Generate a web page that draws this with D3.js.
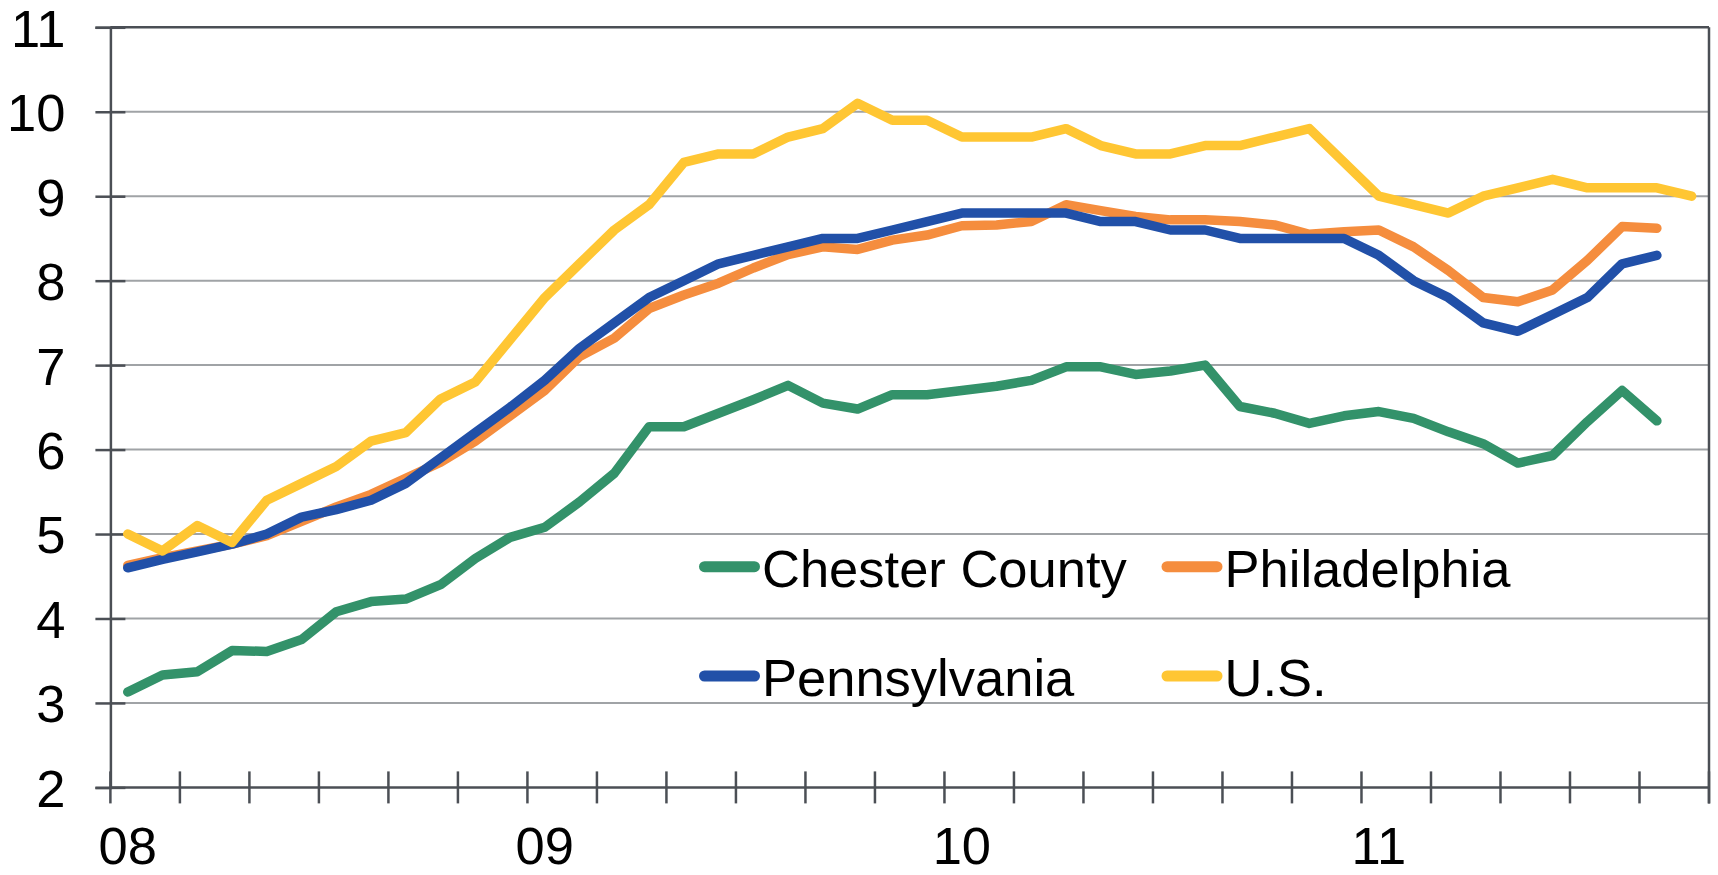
<!DOCTYPE html>
<html>
<head>
<meta charset="utf-8">
<script src="https://cdn.jsdelivr.net/npm/d3@7"></script>
<style>
  html, body { margin: 0; padding: 0; background: #fff; }
  svg { display: block; font-family: "Liberation Sans", Arial, sans-serif; }
</style>
</head>
<body>
<svg id="chart" width="1718" height="875"></svg>
<script>
// ---------- data ----------
const months = [
  "2008-01","2008-02","2008-03","2008-04","2008-05","2008-06","2008-07","2008-08","2008-09","2008-10","2008-11","2008-12",
  "2009-01","2009-02","2009-03","2009-04","2009-05","2009-06","2009-07","2009-08","2009-09","2009-10","2009-11","2009-12",
  "2010-01","2010-02","2010-03","2010-04","2010-05","2010-06","2010-07","2010-08","2010-09","2010-10","2010-11","2010-12",
  "2011-01","2011-02","2011-03","2011-04","2011-05","2011-06","2011-07","2011-08","2011-09","2011-10"
];
const yearTickMonths = ["2008-01","2009-01","2010-01","2011-01"];
const yearTickLabels = ["08","09","10","11"];
const yTicks = [2,3,4,5,6,7,8,9,10,11];

const chesterCounty = [
  3.13,3.33,3.37,3.62,3.61,3.75,4.08,4.20,4.23,4.40,4.71,4.96,
  5.08,5.38,5.72,6.27,6.27,6.43,6.59,6.76,6.55,6.48,6.65,6.65,
  6.70,6.75,6.82,6.98,6.98,6.89,6.93,7.00,6.51,6.43,6.31,6.40,
  6.45,6.37,6.21,6.07,5.84,5.93,6.33,6.70,6.34
];
const philadelphia = [
  4.63,4.72,4.80,4.88,4.98,5.15,5.32,5.47,5.66,5.85,6.10,6.40,
  6.70,7.10,7.32,7.67,7.83,7.97,8.15,8.31,8.40,8.37,8.48,8.54,
  8.65,8.66,8.70,8.90,8.83,8.76,8.72,8.72,8.70,8.66,8.55,8.58,
  8.60,8.40,8.12,7.80,7.75,7.89,8.24,8.64,8.62
];
const pennsylvania = [
  4.60,4.70,4.79,4.88,5.00,5.20,5.29,5.40,5.60,5.90,6.20,6.50,
  6.82,7.20,7.50,7.80,8.00,8.20,8.30,8.40,8.50,8.50,8.60,8.70,
  8.80,8.80,8.80,8.80,8.70,8.70,8.60,8.60,8.50,8.50,8.50,8.50,
  8.30,8.00,7.80,7.50,7.40,7.60,7.80,8.20,8.30
];
const us = [
  5.0,4.8,5.1,4.9,5.4,5.6,5.8,6.1,6.2,6.6,6.8,7.3,
  7.8,8.2,8.6,8.9,9.4,9.5,9.5,9.7,9.8,10.1,9.9,9.9,
  9.7,9.7,9.7,9.8,9.6,9.5,9.5,9.6,9.6,9.7,9.8,9.4,
  9.0,8.9,8.8,9.0,9.1,9.2,9.1,9.1,9.1,9.0
];

const seriesNames = ["Chester County","Philadelphia","Pennsylvania","U.S."];
const seriesValues = [chesterCounty, philadelphia, pennsylvania, us];
const seriesColors = ["#33926a","#f58d3e","#2150a8","#ffc633"];

// ---------- layout ----------
const plotLeft = 110.4, plotRight = 1709, plotTop = 27.3, plotBottom = 787.4;
const svg = d3.select("#chart");

const x = d3.scaleBand().domain(months).range([plotLeft, plotRight]).paddingInner(0).paddingOuter(0);
const y = d3.scaleLinear().domain([2, 11]).range([plotBottom, plotTop]);
const cx = m => x(m) + x.bandwidth() / 2;

const axisColor = "#4b4f55";
const gridColor = "#a0a3a6";
const fontSize = 52.5;

// gridlines
svg.append("g").selectAll("line")
  .data(yTicks.filter(v => v > 2 && v < 11))
  .join("line")
  .attr("x1", plotLeft).attr("x2", plotRight)
  .attr("y1", d => y(d)).attr("y2", d => y(d))
  .attr("stroke", gridColor).attr("stroke-width", 2);

// top & right border
svg.append("line").attr("x1", plotLeft).attr("x2", plotRight).attr("y1", y(11)).attr("y2", y(11))
  .attr("stroke", axisColor).attr("stroke-width", 2.5);
svg.append("line").attr("x1", plotRight).attr("x2", plotRight).attr("y1", y(11)).attr("y2", y(2) + 16)
  .attr("stroke", axisColor).attr("stroke-width", 2.5);

// y axis
const yAxis = d3.axisLeft(y).tickValues(yTicks).tickSize(15).tickPadding(0).tickFormat(d3.format("d"));
const gy = svg.append("g").attr("transform", `translate(${plotLeft},0)`).call(yAxis);
gy.select(".domain").attr("stroke", axisColor).attr("stroke-width", 2.5);
gy.selectAll(".tick line").attr("stroke", axisColor).attr("stroke-width", 2.5).attr("x1", 15).attr("x2", -15);
gy.selectAll(".tick text").attr("x", -45).attr("dy", "0.36em")
  .attr("font-size", fontSize).attr("fill", "#000")
  .attr("font-family", "'Liberation Sans', Arial, sans-serif");

// x axis: ticks every two months at band edges
const tickMonths = months.filter((m, i) => i % 2 === 0);
const gx = svg.append("g");
gx.append("line").attr("x1", plotLeft).attr("x2", plotRight).attr("y1", plotBottom).attr("y2", plotBottom)
  .attr("stroke", axisColor).attr("stroke-width", 2.5);
gx.selectAll("line.tick").data(tickMonths.concat(["__end"])).join("line")
  .attr("class", "tick")
  .attr("x1", d => d === "__end" ? plotRight : x(d))
  .attr("x2", d => d === "__end" ? plotRight : x(d))
  .attr("y1", plotBottom - 16).attr("y2", plotBottom + 16)
  .attr("stroke", axisColor).attr("stroke-width", 2.5);
gx.selectAll("text").data(yearTickMonths).join("text")
  .attr("x", d => cx(d)).attr("y", 864)
  .attr("text-anchor", "middle").attr("font-size", fontSize).attr("fill", "#000")
  .text((d, i) => yearTickLabels[i]);

// lines
const line = d3.line().x((d, i) => cx(months[i])).y(d => y(d));
svg.append("g").selectAll("path")
  .data(seriesValues)
  .join("path")
  .attr("d", d => line(d))
  .attr("fill", "none")
  .attr("stroke", (d, i) => seriesColors[i])
  .attr("stroke-width", 9.5)
  .attr("stroke-linejoin", "round")
  .attr("stroke-linecap", "round");

// legend
const legendPos = [[699, 566.7], [1161.5, 566.7], [699, 676], [1161.5, 676]];
const lg = svg.append("g").selectAll("g").data(seriesNames).join("g")
  .attr("transform", (d, i) => `translate(${legendPos[i][0]},${legendPos[i][1]})`);
lg.append("line").attr("x1", 5.5).attr("x2", 55.5).attr("y1", 0).attr("y2", 0)
  .attr("stroke", (d, i) => seriesColors[i]).attr("stroke-width", 11).attr("stroke-linecap", "round");
lg.append("text").attr("x", 63).attr("y", 20).attr("font-size", fontSize).attr("fill", "#000")
  .text(d => d);
</script>
</body>
</html>
